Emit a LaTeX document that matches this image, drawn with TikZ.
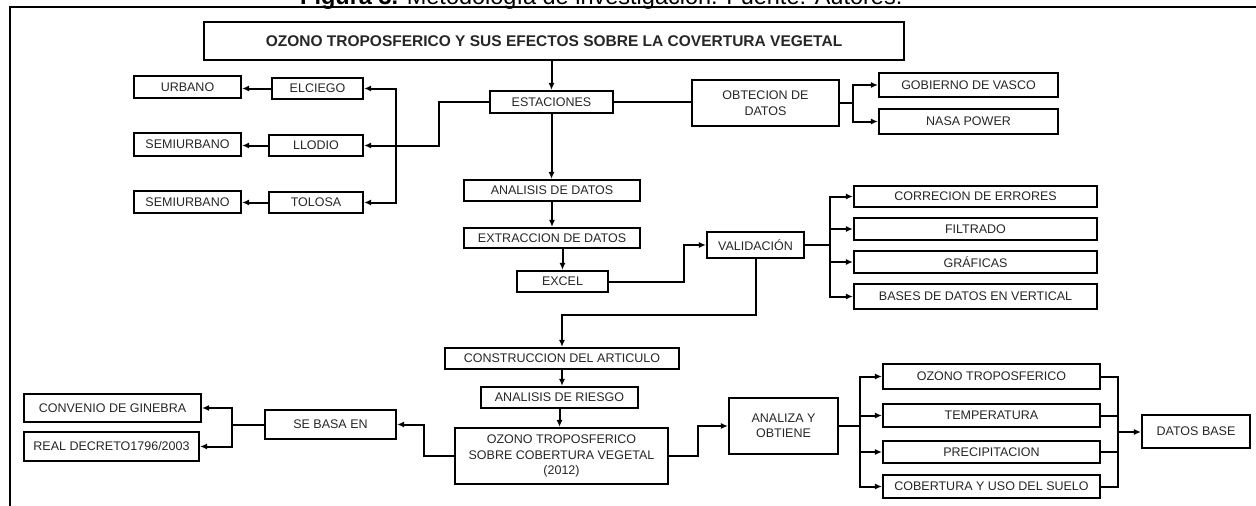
\documentclass[tikz,border=0pt]{standalone}
\usepackage{fontspec}
\setmainfont{Liberation Sans}
\usetikzlibrary{arrows.meta}
\begin{document}
\begin{tikzpicture}[x=1pt,y=-1pt,
 bx/.style={draw, line width=2.1pt, inner sep=0pt, align=center, text=black!85, font=\fontsize{12.5}{15.5}\selectfont},
 sz/.style 2 args={minimum width=#1pt, minimum height=#2pt},
 con/.style={line width=2pt},
 arr/.style={con, -{Latex[length=7pt,width=6pt]}},
]
\useasboundingbox (0,0) rectangle (1256,506);
% caption and frame
\node[anchor=base west, inner sep=0pt, font=\fontsize{23.5}{28}\selectfont] (cap) at (300,5) {\textbf{Figura 3.} Metodología de investigación. Fuente: Autores.};
\coordinate (fbl) at (10,506);
\coordinate (ftl) at (10,7);
\coordinate (ftr) at (1256,7);
\draw[line width=1.8pt] (fbl) -- (ftl) -- (ftr);

% nodes
\node[bx, sz={700}{38}, font=\bfseries\fontsize{15.5}{18}\selectfont] (title) at (554,41) {OZONO TROPOSFERICO Y SUS EFECTOS SOBRE LA COVERTURA VEGETAL};
\node[bx, sz={123}{22}] (est) at (551.5,102) {ESTACIONES};
\node[bx, sz={147}{46}] (obt) at (765.5,103) {OBTECION DE\\DATOS};
\node[bx, sz={179}{24}] (gob) at (968.5,85) {GOBIERNO DE VASCO};
\node[bx, sz={179}{25}] (nasa) at (968.5,121.5) {NASA POWER};
\node[bx, sz={91}{21}] (elc) at (317.5,88.5) {ELCIEGO};
\node[bx, sz={94}{21}] (llo) at (316,145.5) {LLODIO};
\node[bx, sz={94}{21}] (tol) at (316,202.5) {TOLOSA};
\node[bx, sz={107}{22}] (urb) at (187.5,87) {URBANO};
\node[bx, sz={107}{23}] (semA) at (187.5,144.5) {SEMIURBANO};
\node[bx, sz={107}{22}] (semB) at (187.5,202) {SEMIURBANO};
\node[bx, sz={176}{21}] (anal) at (552,190.5) {ANALISIS DE DATOS};
\node[bx, sz={176}{20}] (extr) at (552,238) {EXTRACCION DE DATOS};
\node[bx, sz={91}{21}] (exc) at (562.5,281.5) {EXCEL};
\node[bx, sz={97}{26}] (val) at (755.5,245) {VALIDACIÓN};
\node[bx, sz={243}{21}] (corr) at (975.5,196.5) {CORRECION DE ERRORES};
\node[bx, sz={243}{22}] (filt) at (975.5,229) {FILTRADO};
\node[bx, sz={243}{22}] (graf) at (975.5,262) {GRÁFICAS};
\node[bx, sz={243}{25}] (bases) at (975.5,296.5) {BASES DE DATOS EN VERTICAL};
\node[bx, sz={234}{21}] (cons) at (562,358.5) {CONSTRUCCION DEL ARTICULO};
\node[bx, sz={157}{21}] (ries) at (559.5,397.5) {ANALISIS DE RIESGO};
\node[bx, sz={213}{56}] (ozv) at (561.5,456) {OZONO TROPOSFERICO\\SOBRE COBERTURA VEGETAL\\(2012)};
\node[bx, sz={131}{29}] (seb) at (330.5,424.5) {SE BASA EN};
\node[bx, sz={177}{28}] (conv) at (112.5,408) {CONVENIO DE GINEBRA};
\node[bx, sz={175}{29}] (real) at (111.5,446.5) {REAL DECRETO1796/2003};
\node[bx, sz={109}{56}] (anz) at (783.5,426) {ANALIZA Y\\OBTIENE};
\node[bx, sz={217}{25}] (ozt) at (991.5,376.5) {OZONO TROPOSFERICO};
\node[bx, sz={217}{23}] (temp) at (991.5,415.5) {TEMPERATURA};
\node[bx, sz={217}{22}] (prec) at (991.5,452) {PRECIPITACION};
\node[bx, sz={217}{23}] (cob) at (991.5,486.5) {COBERTURA Y USO DEL SUELO};
\node[bx, sz={108}{33}] (dbase) at (1196,431.5) {DATOS BASE};

% bus coordinates
\coordinate (jL) at (439,145.5);
\coordinate (busL) at (396,145.5);
\coordinate (busO) at (853,103);
\coordinate (busV) at (830,245);
\coordinate (busS) at (232,424.5);
\coordinate (busA) at (860,426);
\coordinate (busD) at (1118,432);

% connectors
\draw[arr] (est.north |- title.south) -- (est.north);
\draw[arr] (est.west) -| (jL) -- (llo.east);
\draw[arr] (busL) |- (elc.east);
\draw[arr] (busL) |- (tol.east);
\draw[arr] (elc.west) -- (urb.east |- elc.west);
\draw[arr] (llo.west) -- (semA.east |- llo.west);
\draw[arr] (tol.west) -- (semB.east |- tol.west);
\draw[con] (est.east) -- (obt.west |- est.east);
\draw[con] (obt.east) -- (busO);
\draw[arr] (busO) |- (gob.west);
\draw[arr] (busO) |- (nasa.west);
\draw[arr] (est.south) -- (est.south |- anal.north);
\draw[arr] (anal.south) -- (anal.south |- extr.north);
\draw[arr] (exc.north |- extr.south) -- (exc.north);
\draw[arr] (exc.east) -- ++(75,0) |- (val.west);
\draw[con] (val.east) -- (busV);
\draw[arr] (busV) |- (corr.west);
\draw[arr] (busV) |- (filt.west);
\draw[arr] (busV) |- (graf.west);
\draw[arr] (busV) |- (bases.west);
\draw[arr] (val.south) -- ++(0,56) -| (cons.north);
\draw[arr] (cons.south) -- (cons.south |- ries.north);
\draw[arr] (ries.south) -- (ries.south |- ozv.north);
\draw[arr] (ozv.west) -- ++(-30,0) |- (seb.east);
\draw[con] (seb.west) -- (busS);
\draw[arr] (busS) |- (conv.east);
\draw[arr] (busS) |- (real.east);
\draw[arr] (ozv.east) -- ++(29,0) |- (anz.west);
\draw[con] (anz.east) -- (busA);
\draw[arr] (busA) |- (ozt.west);
\draw[arr] (busA) |- (temp.west);
\draw[arr] (busA) |- (prec.west);
\draw[arr] (busA) |- (cob.west);
\draw[con] (ozt.east) -| (busD);
\draw[con] (temp.east) -| (busD);
\draw[con] (prec.east) -| (busD);
\draw[con] (cob.east) -| (busD);
\draw[arr] (busD) -- (dbase.west |- busD);
\end{tikzpicture}
\end{document}
